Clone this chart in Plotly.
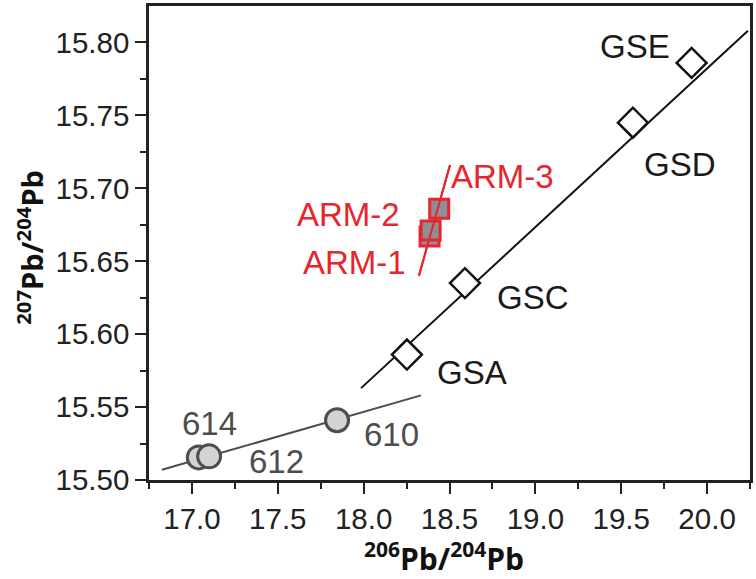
import plotly.graph_objects as go

# --- data ---
gs_names = ["GSA", "GSC", "GSD", "GSE"]
gs_x = [18.252, 18.590, 19.568, 19.910]
gs_y = [15.586, 15.635, 15.745, 15.786]
gs_line_x = [17.985, 20.238]
gs_line_y = [15.563, 15.808]

arm_names = ["ARM-1", "ARM-2", "ARM-3"]
arm_x = [18.384, 18.390, 18.440]
arm_y = [15.667, 15.671, 15.686]
arm_line_x = [18.322, 18.503]
arm_line_y = [15.640, 15.716]

nist_names = ["614", "612", "610"]
nist_x = [17.040, 17.100, 17.845]
nist_y = [15.5155, 15.5162, 15.541]
nist_line_x = [16.825, 18.334]
nist_line_y = [15.507, 15.558]

# label positions (data coords)
gs_lab_x = [18.631, 18.986, 19.842, 19.580]
gs_lab_y = [15.574, 15.625, 15.716, 15.797]
arm_lab_x = [17.945, 17.909, 18.811]
arm_lab_y = [15.649, 15.682, 15.708]
nist_lab_x = [17.105, 17.495, 18.165]
nist_lab_y = [15.539, 15.5125, 15.5315]

RED = "#e8242c"
GRAY = "#4d4d4d"
FONT = "Liberation Sans"

fig = go.Figure()
fig.add_trace(go.Scatter(x=nist_line_x, y=nist_line_y, mode="lines",
                         line=dict(color=GRAY, width=2), showlegend=False, hoverinfo="skip"))
fig.add_trace(go.Scatter(x=gs_line_x, y=gs_line_y, mode="lines",
                         line=dict(color="#111111", width=2), showlegend=False, hoverinfo="skip"))
fig.add_trace(go.Scatter(x=arm_line_x, y=arm_line_y, mode="lines",
                         line=dict(color=RED, width=2), showlegend=False, hoverinfo="skip"))

fig.add_trace(go.Scatter(x=nist_x, y=nist_y, mode="markers", showlegend=False,
                         marker=dict(symbol="circle", size=23, color="#d2d3d5",
                                     line=dict(color=GRAY, width=3))))
fig.add_trace(go.Scatter(x=gs_x, y=gs_y, mode="markers", showlegend=False,
                         marker=dict(symbol="diamond", size=23, color="white",
                                     line=dict(color="#111111", width=2.5))))
fig.add_trace(go.Scatter(x=arm_x, y=arm_y, mode="markers", showlegend=False,
                         marker=dict(symbol="square", size=19, color="#8e8e94",
                                     line=dict(color=RED, width=3))))
# redraw red line over squares (as in reference)
fig.add_trace(go.Scatter(x=arm_line_x, y=arm_line_y, mode="lines",
                         line=dict(color=RED, width=2), showlegend=False, hoverinfo="skip"))

for n, x, y in zip(gs_names, gs_lab_x, gs_lab_y):
    fig.add_annotation(x=x, y=y, text=n, showarrow=False, xanchor="center", yanchor="middle",
                       font=dict(family=FONT, size=33, color="#1a1a1a"))
for n, x, y in zip(arm_names, arm_lab_x, arm_lab_y):
    fig.add_annotation(x=x, y=y, text=n, showarrow=False, xanchor="center", yanchor="middle",
                       font=dict(family=FONT, size=33, color=RED))
for n, x, y in zip(nist_names, nist_lab_x, nist_lab_y):
    fig.add_annotation(x=x, y=y, text=n, showarrow=False, xanchor="center", yanchor="middle",
                       font=dict(family=FONT, size=33, color=GRAY))

TITLE_FONT = dict(family="Open Sans", size=30, color="#111111")
fig.add_annotation(xref="paper", yref="paper", x=0.491, y=-0.163,
                   xanchor="center", yanchor="middle",
                   text="<b><sup>206</sup>Pb/<sup>204</sup>Pb</b>", showarrow=False,
                   font=TITLE_FONT)
fig.add_annotation(xref="paper", yref="paper", x=-0.198, y=0.49, textangle=-90,
                   xanchor="center", yanchor="middle",
                   text="<b><sup>207</sup>Pb/<sup>204</sup>Pb</b>", showarrow=False,
                   font=dict(family="Open Sans", size=29, color="#111111"))

axis_common = dict(showgrid=False, zeroline=False, showline=True, linecolor="#222222",
                   linewidth=2.5, mirror=True, ticks="outside", ticklen=11,
                   tickwidth=2, tickcolor="#222222", automargin=False,
                   tickfont=dict(family=FONT, size=29.5, color="#222222"))
fig.update_xaxes(range=[16.75, 20.25], tickvals=[17.0, 17.5, 18.0, 18.5, 19.0, 19.5, 20.0],
                 ticktext=["17.0", "17.5", "18.0", "18.5", "19.0", "19.5", "20.0"],
                 minor=dict(tickvals=[16.75, 17.25, 17.75, 18.25, 18.75, 19.25, 19.75, 20.25],
                            ticklen=6, tickwidth=2, tickcolor="#222222", ticks="outside"),
                 **axis_common)
fig.update_yaxes(range=[15.50, 15.825],
                 tickvals=[15.50, 15.55, 15.60, 15.65, 15.70, 15.75, 15.80],
                 ticktext=["15.50", "15.55", "15.60", "15.65", "15.70", "15.75", "15.80"],
                 minor=dict(tickvals=[15.525, 15.575, 15.625, 15.675, 15.725, 15.775],
                            ticklen=6, tickwidth=2, tickcolor="#222222", ticks="outside"),
                 **axis_common)

fig.update_layout(width=756, height=579, plot_bgcolor="white", paper_bgcolor="white",
                  margin=dict(l=149, r=6, t=6, b=99), showlegend=False)
fig.write_html("out.html", config={"displayModeBar": False},
               post_script="document.body.style.margin='0';")
